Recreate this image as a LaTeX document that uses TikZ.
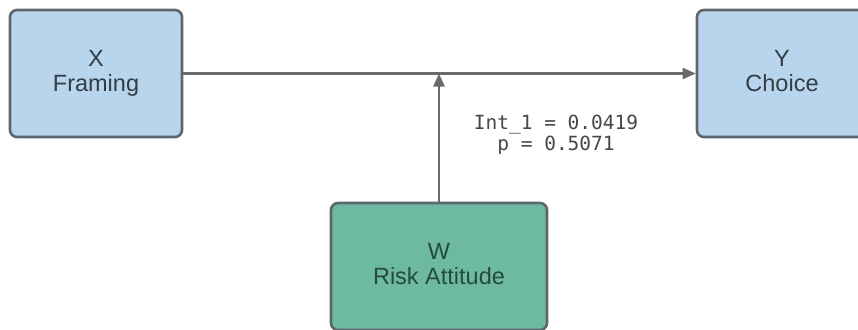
\documentclass[tikz,border=0pt]{standalone}
\usepackage{fontspec}
\setmainfont{Liberation Sans}
\newfontfamily\monofont{DejaVu Sans Mono}
\usetikzlibrary{arrows.meta}
\definecolor{boxblue}{HTML}{B9D5EE}
\definecolor{boxgreen}{HTML}{6DB9A1}
\definecolor{boxedge}{HTML}{5D666C}
\definecolor{labeltext}{HTML}{333D46}
\definecolor{wtext}{HTML}{264A40}
\definecolor{linegray}{HTML}{6A6A6A}
\definecolor{statgray}{HTML}{474747}
\tikzset{
  varbox/.style={draw=boxedge, line width=2.6pt, rounded corners=7pt,
    align=center, text=labeltext, inner sep=0pt,
    font=\fontsize{23.5}{25.5}\selectfont},
  conn/.style={draw=linegray, line width=2.2pt,
    -{Triangle[length=13pt,width=11pt]}},
  stat/.style={align=center, text=statgray, inner sep=0pt,
    font=\monofont\fontsize{19.5}{20.5}\selectfont}
}
\begin{document}
\begin{tikzpicture}[x=1pt,y=-1pt]
  \useasboundingbox (0,0) rectangle (858,329);
  \clip (0,0) rectangle (858,329);
  \fill[white] (0,0) rectangle (858,329);
  % predictor, outcome and moderator (phantom g keeps labels on one baseline)
  \node[varbox, fill=boxblue, minimum width=172pt, minimum height=127pt]
    (X) at (96,73.5) {X\\Framing};
  \node[varbox, fill=boxblue, minimum width=170pt, minimum height=127pt]
    (Y) at (782,73.5) {Y\\Choice\vphantom{g}};
  \node[varbox, fill=boxgreen, text=wtext, minimum width=216pt, minimum height=127pt]
    (W) at (439,266.5) {W\\Risk Attitude\vphantom{g}};
  % direct path and moderation arrow
  \draw[conn] (X.east) -- (Y.west);
  \draw[conn] (W.north) -- (W.north |- X.east);
  % interaction statistics
  \node[stat] (S) at (556,135) {Int\_1 = 0.0419\\p = 0.5071};
\end{tikzpicture}
\end{document}
